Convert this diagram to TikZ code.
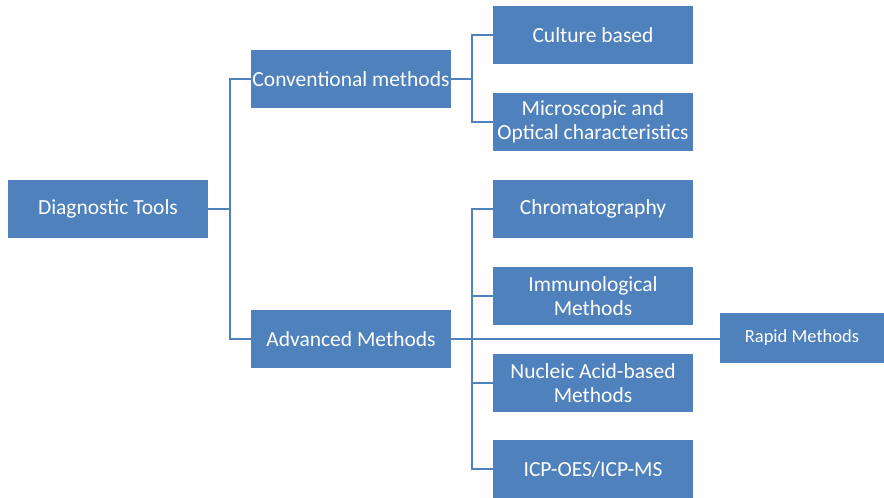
\documentclass[tikz,border=0pt]{standalone}
\usepackage{fontspec}
\setmainfont{Carlito}
\usepackage{tikz}
\usetikzlibrary{positioning}
\definecolor{boxblue}{HTML}{4F81BD}
\tikzset{
  MethodBox/.style={
    fill=boxblue, text=white,
    minimum width=200pt, minimum height=58pt,
    align=center, inner sep=1pt,
    font=\fontsize{21.5}{24}\selectfont
  },
  Branch/.style={draw=boxblue, line width=1.5pt}
}

\begin{document}
\begin{tikzpicture}[x=1pt, y=-1pt, line join=miter]
  \useasboundingbox (0,0) rectangle (884,498);

  % root and the two main groups
  \node[MethodBox] (diag) at (108,209) {Diagnostic Tools};
  \node[MethodBox] (conv) at (351,79) {Conventional methods};
  \node[MethodBox] (adv) at (351,339) {Advanced Methods};

  % conventional leaves
  \node[MethodBox] (cult) at (593,35) {Culture based};
  \node[MethodBox] (micro) at (593,122) {Microscopic and\\Optical characteristics};

  % advanced leaves
  \node[MethodBox] (chrom) at (593,209) {Chromatography};
  \node[MethodBox] (immu) at (593,296) {Immunological\\Methods};
  \node[MethodBox] (nucl) at (593,383) {Nucleic Acid-based\\Methods};
  \node[MethodBox] (icp) at (593,469) {ICP-OES/ICP-MS};
  \node[MethodBox, minimum width=164pt, minimum height=50pt,
        font=\fontsize{18.5}{21}\selectfont] (rapid) at (802,338) {Rapid Methods};

  % fork points of the elbow connectors
  \coordinate (diagfork) at (230,209);
  \coordinate (convfork) at (472,79);
  \coordinate (advfork) at (472,339);

  \draw[Branch] (diag.east) -- (diagfork);
  \draw[Branch] (conv.west) -| (diagfork) |- (adv.west);

  \draw[Branch] (conv.east) -- (convfork);
  \draw[Branch] (cult.west) -| (convfork) |- (micro.west);

  \draw[Branch] (chrom.west) -| (advfork) |- (icp.west);
  \draw[Branch] (immu.west) -| (advfork);
  \draw[Branch] (nucl.west) -| (advfork);
  \draw[Branch] (adv.east) -- (adv.east -| rapid.west);
\end{tikzpicture}
\end{document}
